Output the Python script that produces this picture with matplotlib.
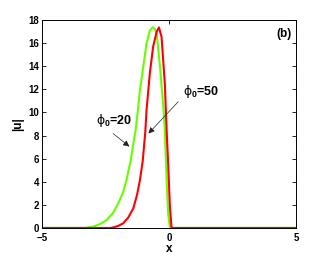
import matplotlib.pyplot as plt

plt.rcParams['font.family'] = ['Liberation Sans', 'DejaVu Sans']
plt.rcParams['mathtext.fontset'] = 'custom'
plt.rcParams['mathtext.rm'] = 'DejaVu Sans'
plt.rcParams['mathtext.bf'] = 'Liberation Sans:bold'

# |u| profiles
x_phi20 = [-5, -3.3, -3.0, -2.7, -2.45, -2.2, -1.99, -1.8, -1.67, -1.5, -1.4, -1.31,
           -1.22, -1.14, -1.01, -0.88, -0.75, -0.63, -0.55, -0.48, -0.35, -0.22,
           -0.16, -0.09, -0.03, 0.04, 5]
u_phi20 = [0, 0, 0.1, 0.35, 0.69, 1.3, 2.14, 3.1, 4.15, 5.9, 7.33, 8.48,
           10.2, 11.94, 13.95, 15.98, 17.1, 17.38, 17.2, 16.8, 13.95, 10.5,
           8.5, 4.15, 1.27, 0, 0]

x_phi50 = [-5, -2.3, -2.19, -2.0, -1.8, -1.6, -1.4, -1.25, -1.14, -1.03, -0.93,
           -0.88, -0.75, -0.62, -0.48, -0.39, -0.29, -0.16, -0.09, -0.03, 0.04,
           0.1, 0.15, 5]
u_phi50 = [0, 0, 0.05, 0.17, 0.4, 0.9, 1.7, 2.9, 4.15, 5.8, 8.3,
           10.2, 13.4, 15.7, 17.0, 17.36, 16.55, 12.5, 8.5, 5.6, 1.84,
           0.1, 0, 0]

xticks = [-5, 0, 5]
yticks = [0, 2, 4, 6, 8, 10, 12, 14, 16, 18]

fig = plt.figure(figsize=(3.27, 2.57), dpi=100)
ax = fig.add_axes([0.128, 0.113, 0.777, 0.809])

ax.plot(x_phi20, u_phi20, color='#66ff00', lw=1.5)
ax.plot(x_phi50, u_phi50, color='#ff0000', lw=1.5)

ax.set_xlim(-5, 5)
ax.set_ylim(0, 18)
ax.set_xticks(xticks)
ax.set_yticks(yticks)
ax.set_xticklabels(['\u22125', '0', '5'])
ax.tick_params(direction='in', labelsize=7, length=3, width=0.6, top=True, right=True, pad=2)
ax.tick_params(axis='x', pad=3.5)
for lab in ax.get_xticklabels() + ax.get_yticklabels():
    lab.set_fontweight('bold')
for s in ax.spines.values():
    s.set_linewidth(0.7)

ax.set_xlabel('x', fontsize=8.5, fontweight='bold', labelpad=0)
ax.set_ylabel('|u|', fontsize=8.5, fontweight='bold', labelpad=3)

arrow = dict(arrowstyle='-|>', color='#222222', lw=0.5, mutation_scale=9)
lbl20 = r'$\mathrm{\phi}_\mathbf{0}$=20'
lbl50 = r'$\mathrm{\phi}_\mathbf{0}$=50'
ax.annotate(lbl20, xy=(-1.47, 6.9), xytext=(-2.85, 9.3),
            fontsize=9, fontweight='bold', va='center', arrowprops=dict(arrow, relpos=(0.3, 0)))
ax.annotate(lbl50, xy=(-0.88, 8.0), xytext=(0.55, 11.8),
            fontsize=9, fontweight='bold', va='center', arrowprops=dict(arrow, relpos=(0, 0.2)))
ax.text(4.53, 16.8, '(b)', fontsize=8.5, fontweight='bold', ha='center', va='center')

fig.savefig('out.png', dpi=100)
